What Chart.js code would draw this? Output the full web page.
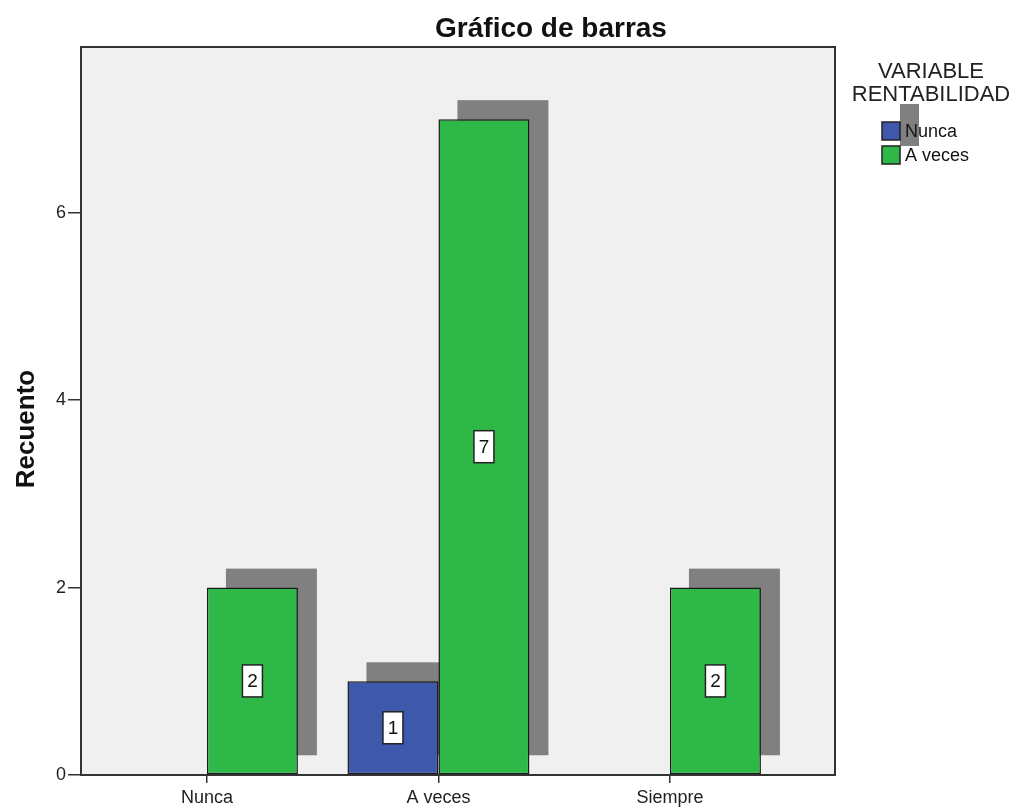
<!DOCTYPE html>
<html lang="es">
<head>
  <meta charset="UTF-8" />
  <title>Gráfico de barras</title>
  <script src="https://cdn.jsdelivr.net/npm/chart.js"></script>
  <style>
    body {
      margin: 0;
      background: #ffffff;
    }
    #wrap {
      width: 1016px;
      height: 809px;
    }
  </style>
</head>
<body>
  <div id="wrap">
    <canvas id="barChart" width="1016" height="809"></canvas>
  </div>

  <script>
    // data
    const categories = ['Nunca', 'A veces', 'Siempre'];
    const seriesNames = ['Nunca', 'A veces'];
    const seriesColors = ['#3e58ac', '#2eb848'];
    const nuncaCounts = [null, 1, null];
    const aVecesCounts = [2, 7, 2];
    const yTicks = [0, 2, 4, 6];
    const legendTitle = ['VARIABLE', 'RENTABILIDAD'];

    const FONT = 'Arial, "Liberation Sans", sans-serif';
    const SHADOW = 19;

    function toPoints(values) {
      return values.map((v, i) => ({ x: i, y: v }));
    }

    const spssDecor = {
      id: 'spssDecor',
      beforeDraw(chart) {
        const { ctx, chartArea: a } = chart;
        ctx.save();
        ctx.fillStyle = '#ffffff';
        ctx.fillRect(0, 0, chart.width, chart.height);
        ctx.fillStyle = '#f0f0f0';
        ctx.fillRect(a.left, a.top, a.right - a.left, a.bottom - a.top);
        ctx.restore();
      },
      beforeDatasetsDraw(chart) {
        // offset grey shadows behind every bar
        const ctx = chart.ctx;
        ctx.save();
        ctx.fillStyle = '#808080';
        chart.data.datasets.forEach((ds, di) => {
          const meta = chart.getDatasetMeta(di);
          meta.data.forEach((el, i) => {
            if (ds.data[i].y == null) return;
            const p = el.getProps(['x', 'y', 'base', 'width'], true);
            ctx.fillRect(p.x - p.width / 2 + SHADOW, p.y - SHADOW, p.width, p.base - p.y);
          });
        });
        ctx.restore();
      },
      afterDatasetsDraw(chart) {
        // value boxes in the middle of each bar
        const ctx = chart.ctx;
        ctx.save();
        ctx.font = '19px ' + FONT;
        ctx.textAlign = 'center';
        ctx.textBaseline = 'middle';
        chart.data.datasets.forEach((ds, di) => {
          const meta = chart.getDatasetMeta(di);
          meta.data.forEach((el, i) => {
            const v = ds.data[i].y;
            if (v == null) return;
            const p = el.getProps(['x', 'y', 'base'], true);
            const cy = (p.y + p.base) / 2;
            ctx.fillStyle = '#ffffff';
            ctx.fillRect(p.x - 10, cy - 16, 20, 32);
            ctx.strokeStyle = '#222222';
            ctx.lineWidth = 1.5;
            ctx.strokeRect(p.x - 10, cy - 16, 20, 32);
            ctx.fillStyle = '#111111';
            ctx.fillText(String(v), p.x, cy + 1);
          });
        });
        ctx.restore();
      },
      afterDraw(chart) {
        const { ctx, chartArea: a } = chart;
        ctx.save();

        // plot frame
        ctx.strokeStyle = '#333333';
        ctx.lineWidth = 2;
        ctx.strokeRect(a.left, a.top, a.right - a.left, a.bottom - a.top);

        // title
        ctx.fillStyle = '#111111';
        ctx.font = 'bold 28px ' + FONT;
        ctx.textAlign = 'center';
        ctx.textBaseline = 'alphabetic';
        ctx.fillText('Gráfico de barras', 551, 37);

        // y axis title
        ctx.save();
        ctx.translate(27, 429);
        ctx.rotate(-Math.PI / 2);
        ctx.font = 'bold 26px ' + FONT;
        ctx.textBaseline = 'middle';
        ctx.fillText('Recuento', 0, 0);
        ctx.restore();

        // legend
        ctx.fillStyle = '#222222';
        ctx.font = '22px ' + FONT;
        ctx.textAlign = 'center';
        ctx.fillText(legendTitle[0], 931, 78);
        ctx.fillText(legendTitle[1], 931, 101);

        ctx.fillStyle = '#808080';
        ctx.fillRect(900, 104, 19, 42);

        ctx.font = '18px ' + FONT;
        ctx.textAlign = 'left';
        ctx.textBaseline = 'middle';
        seriesNames.forEach((name, i) => {
          const top = 122 + i * 24;
          ctx.fillStyle = seriesColors[i];
          ctx.fillRect(882, top, 18, 18);
          ctx.strokeStyle = '#222222';
          ctx.lineWidth = 1.5;
          ctx.strokeRect(882, top, 18, 18);
          ctx.fillStyle = '#111111';
          ctx.fillText(name, 905, top + 10);
        });

        ctx.restore();
      }
    };

    const chart = new Chart(document.getElementById('barChart').getContext('2d'), {
      type: 'bar',
      data: {
        datasets: [
          {
            label: seriesNames[0],
            data: toPoints(nuncaCounts),
            backgroundColor: seriesColors[0],
            borderColor: '#1a1a1a',
            borderWidth: 1.5,
            borderSkipped: false
          },
          {
            label: seriesNames[1],
            data: toPoints(aVecesCounts),
            backgroundColor: seriesColors[1],
            borderColor: '#1a1a1a',
            borderWidth: 1.5,
            borderSkipped: false
          }
        ]
      },
      options: {
        responsive: false,
        animation: false,
        categoryPercentage: 0.786,
        barPercentage: 1,
        layout: {
          padding: { top: 47, right: 181, left: 0, bottom: 0 }
        },
        plugins: {
          legend: { display: false },
          title: { display: false },
          tooltip: { enabled: false }
        },
        scales: {
          x: {
            type: 'linear',
            min: -0.544,
            max: 2.713,
            offset: false,
            afterBuildTicks: scale => {
              scale.ticks = categories.map((c, i) => ({ value: i }));
            },
            afterFit: scale => { scale.height = 34; },
            grid: {
              offset: false,
              drawOnChartArea: false,
              drawTicks: true,
              tickLength: 8,
              tickColor: '#333333',
              lineWidth: 1.5
            },
            border: { display: true, color: '#333333', width: 2 },
            ticks: {
              padding: 4,
              color: '#222222',
              font: { family: FONT, size: 18 },
              maxRotation: 0,
              callback: v => categories[v]
            }
          },
          y: {
            min: 0,
            max: 7.77,
            afterBuildTicks: scale => {
              scale.ticks = yTicks.map(v => ({ value: v }));
            },
            afterFit: scale => { scale.width = 81; },
            grid: {
              drawOnChartArea: false,
              drawTicks: true,
              tickLength: 13,
              tickColor: '#333333',
              lineWidth: 1.5
            },
            border: { display: true, color: '#333333', width: 2 },
            ticks: {
              padding: 2,
              color: '#222222',
              font: { family: FONT, size: 18 }
            }
          }
        }
      },
      plugins: [spssDecor]
    });
  </script>
</body>
</html>
